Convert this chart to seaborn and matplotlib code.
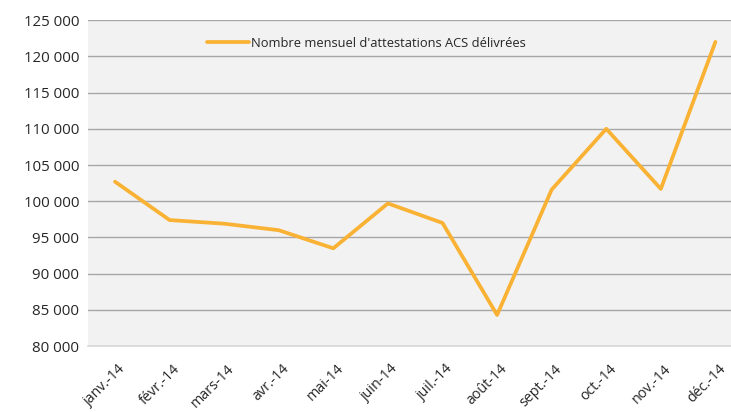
import numpy as np
import matplotlib.pyplot as plt
import matplotlib.ticker as mticker
import matplotlib.transforms as mtransforms
import seaborn as sns
import pandas as pd

months = ["janv.-14", "févr.-14", "mars-14", "avr.-14", "mai-14", "juin-14",
          "juil.-14", "août-14", "sept.-14", "oct.-14", "nov.-14", "déc.-14"]
attestations = [102700, 97400, 96900, 96000, 93500, 99700,
                97000, 84300, 101600, 110000, 101700, 122000]
series_name = "Nombre mensuel d'attestations ACS délivrées"

data = pd.DataFrame({"idx": np.arange(len(months)), "value": attestations,
                     "serie": series_name})

sns.set_theme(style="white")
plt.rcParams['font.family'] = ['Open Sans', 'DejaVu Sans']

fig = plt.figure(figsize=(7.31, 4.12), dpi=100)
# the plot area runs past the right edge of the picture, as in the original
ax = fig.add_axes([0.120, 0.160, 0.896, 0.791])
ax.set_facecolor("#F2F2F2")

sns.lineplot(data, x="idx", y="value", hue="serie", palette=["#F9B233"],
             linewidth=2.7, ax=ax, zorder=3)

ax.set_ylim(80000, 125000)
ax.set_xlim(-0.5, len(months) - 0.5)
ax.yaxis.set_major_locator(mticker.MultipleLocator(5000))
ax.yaxis.set_major_formatter(mticker.FuncFormatter(lambda v, p: f"{int(v):,}".replace(",", " ")))
ax.grid(axis="y", color="#A6A6A6", linewidth=1.0)
ax.set_axisbelow(True)

ax.set_xticks(np.arange(len(months)))
ax.set_xticklabels(months, rotation=45, ha="right", rotation_mode="anchor")
ax.set_xticks(np.arange(len(months) + 1) - 0.5, minor=True)
ax.tick_params(axis="x", which="major", length=0, labelsize=10.3, pad=11)
ax.tick_params(axis="x", which="minor", length=5, color="#D9D9D9", width=1)
ax.tick_params(axis="y", length=0, labelsize=10.8, pad=6)
for lbl in ax.get_xticklabels():
    lbl.set_transform(lbl.get_transform() + mtransforms.ScaledTranslation(0.03, 0, fig.dpi_scale_trans))

for s in ["left", "right", "top"]:
    ax.spines[s].set_visible(False)
ax.spines["bottom"].set_color("#D9D9D9")

ax.set_xlabel("")
ax.set_ylabel("")
ax.legend(loc="upper left", bbox_to_anchor=(0.165, 0.985), frameon=False,
          fontsize=9.3, handlelength=3.2, handletextpad=0.2)

fig.savefig("out.png", dpi=100)
